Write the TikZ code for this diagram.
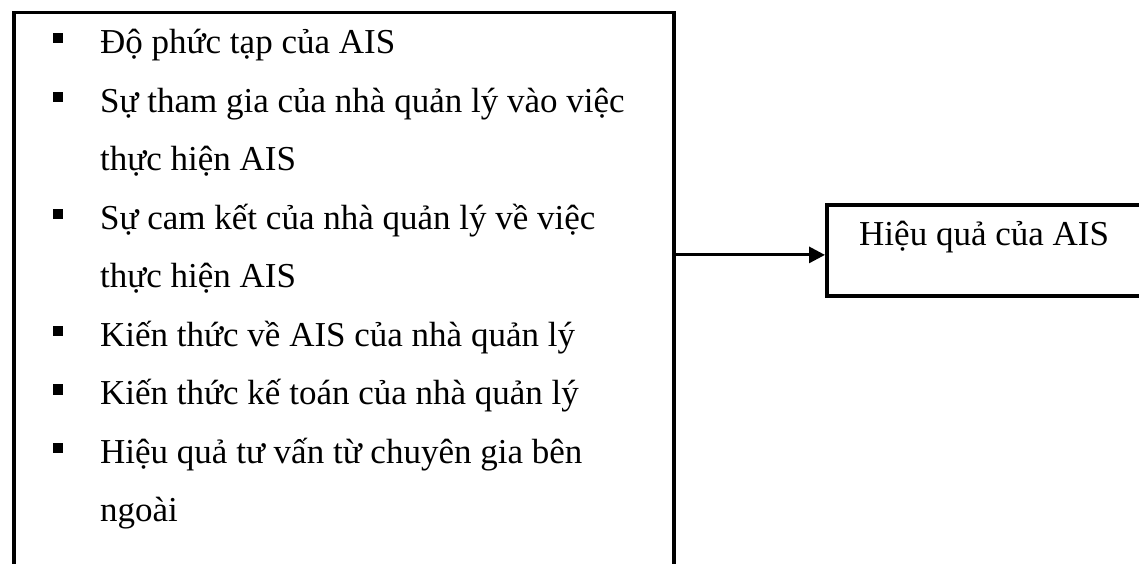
\documentclass[tikz,border=0pt]{standalone}
\usepackage{fontspec}
\setmainfont{Liberation Serif}
\usetikzlibrary{arrows.meta}
\tikzset{
  frame/.style={draw, line width=3.8pt, inner sep=0pt, fill=none},
  item/.style={anchor=base west, inner sep=0pt, font=\fontsize{35pt}{42pt}\selectfont},
  bul/.style={fill=black, inner sep=0pt, minimum size=10.5pt},
  link/.style={line width=3pt, -{Triangle[length=16pt,width=16pt]}}
}
\begin{document}
\begin{tikzpicture}[x=1pt,y=-1pt]
\useasboundingbox (0,0) rectangle (1139,563);
\fill[white] (0,0) rectangle (1139,563);
\begin{scope}
\clip (0,0) rectangle (1139,563);
% factor box (open at the bottom edge)
\node[frame, minimum width=660pt, minimum height=620pt, anchor=north west] (L) at (12,10.5) {};
% outcome box (runs past the right edge)
\node[frame, minimum width=340pt, minimum height=91pt, anchor=north west] (R) at (825,203) {};
\end{scope}
% list of factors
\node[item] (t1) at (100,53) {Độ phức tạp của AIS};
\node[item] (t2) at (100,112) {Sự tham gia của nhà quản lý vào việc};
\node[item] (t3) at (100,170.5) {thực hiện AIS};
\node[item] (t4) at (100,229) {Sự cam kết của nhà quản lý về việc};
\node[item] (t5) at (100,287.5) {thực hiện AIS};
\node[item] (t6) at (100,346) {Kiến thức về AIS của nhà quản lý};
\node[item] (t7) at (100,404.5) {Kiến thức kế toán của nhà quản lý};
\node[item] (t8) at (100,463) {Hiệu quả tư vấn từ chuyên gia bên};
\node[item] (t9) at (100,521.5) {ngoài};
% bullets
\foreach \n/\y in {1/53,2/112,4/229,6/346,7/404.5,8/463}
  \node[bul] (b\n) at (58,\y-15) {};
% outcome label
\node[item] (h) at (859,245) {Hiệu quả của AIS};
% connector
\draw[link] ([yshift=-4.5pt]R.west -| L.east) -- ([yshift=-4.5pt]R.west);
\end{tikzpicture}
\end{document}
